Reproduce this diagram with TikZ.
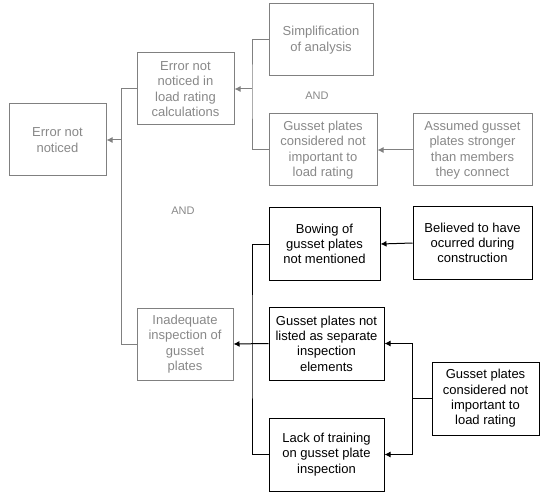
\documentclass[tikz,border=0pt]{standalone}
\usepackage{fontspec}
\usetikzlibrary{arrows.meta}
\setmainfont{Liberation Sans}
\definecolor{cinza}{RGB}{128,128,128}
\definecolor{cinzatexto}{RGB}{136,136,136}
\tikzset{
    caixa/.style={rectangle, draw=black, line width=1pt, align=center, inner sep=0pt,
        minimum height=72pt, font=\fontsize{13}{15.3}\selectfont},
    caixacinza/.style={caixa, draw=cinza, text=cinzatexto},
    linha/.style={line width=1pt, draw=black},
    linhacinza/.style={line width=1pt, draw=cinza},
    seta/.style={linha, ->, >={Latex[length=6pt,width=6pt]}},
    setacinza/.style={linhacinza, ->, >={Latex[length=6pt,width=6pt]}},
    rotulo/.style={text=cinzatexto, font=\fontsize{11}{13}\selectfont}
}
\begin{document}
\begin{tikzpicture}[x=1pt, y=-1pt]
        \useasboundingbox (0,0) rectangle (546,497);
        % Define os nos
        \node[caixacinza, minimum width=97pt] (err) at (57.5,140) {Error not\\noticed};
        \node[caixacinza, minimum width=97pt] (calc) at (185.5,89) {Error not\\noticed in\\load rating\\calculations};
        \node[caixacinza, minimum width=104pt] (simp) at (321,40) {Simplification\\of analysis};
        \node[caixacinza, minimum width=108pt] (gimp) at (323,150) {Gusset plates\\considered not\\important to\\load rating};
        \node[caixacinza, minimum width=119pt] (assm) at (472.5,150) {Assumed gusset\\plates stronger\\than members\\they connect};
        \node[caixacinza, minimum width=96pt] (insp) at (185,344) {Inadequate\\inspection of\\gusset\\plates};
        \node[caixa, minimum width=111pt] (bow) at (324.5,244) {Bowing of\\gusset plates\\not mentioned};
        \node[caixa, minimum width=119pt] (belv) at (472.5,243) {Believed to have\\ocurred during\\construction};
        \node[caixa, minimum width=115pt, minimum height=73pt] (list) at (326.5,343.5) {Gusset plates not\\listed as separate\\inspection\\elements};
        \node[caixa, minimum width=107pt, minimum height=73pt] (gimpb) at (485.5,398.5) {Gusset plates\\considered not\\important to\\load rating};
        \node[caixa, minimum width=115pt, minimum height=73pt] (lack) at (326.5,454.5) {Lack of training\\on gusset plate\\inspection};
        \node[rotulo] (and1) at (317,96) {AND};
        \node[rotulo] (and2) at (183,211) {AND};
        % Pontos de juncao
        \coordinate (j1) at (121.5,140);
        \coordinate (j2) at (252,89);
        \coordinate (j3) at (252,344);
        \coordinate (j4) at (412,398.5);
        % Conecta nos
        \draw[linhacinza] (calc.west) -| (j1) |- (insp.west);
        \draw[setacinza] (j1) -- (err.east);
        \draw[linhacinza] (simp.west) -| (j2) |- (gimp.west);
        \draw[setacinza] (j2) -- (calc.east);
        \draw[setacinza] (assm.west) -- (gimp.east);
        \draw[linha] (bow.west) -| (j3) |- (lack.west);
        \draw[seta] (list.west) -- (insp.east);
        \draw[seta] (belv.west) -- (bow.east);
        \draw[linha] (gimpb.west) -- (j4);
        \draw[seta] (j4) |- (list.east);
        \draw[seta] (j4) |- (lack.east);
    \end{tikzpicture}
\end{document}
